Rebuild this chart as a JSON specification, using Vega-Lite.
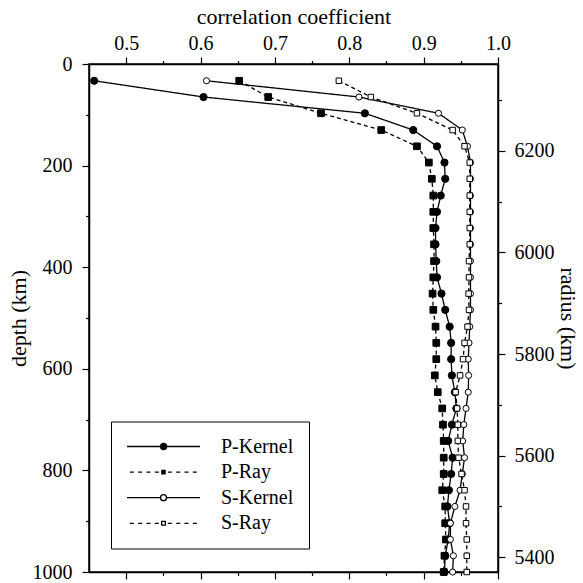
{
  "$schema": "https://vega.github.io/schema/vega-lite/v6.json",
  "autosize": {"type": "none"},
  "width": 409,
  "height": 508,
  "padding": {"left": 89, "top": 64, "right": 85, "bottom": 11},
  "background": "white",
  "config": {
    "font": "Liberation Serif",
    "view": {"stroke": "black", "strokeWidth": 1.5},
    "axis": {
      "grid": false, "domainColor": "black", "tickColor": "black", "labelColor": "black", "titleColor": "black",
      "labelFont": "Liberation Serif", "titleFont": "Liberation Serif", "labelFontSize": 20, "titleFontSize": 22,
      "titleFontWeight": "normal", "domainWidth": 1.5, "tickWidth": 1.2, "labelOverlap": false, "labelFlush": false
    }
  },
  "datasets": {
    "profiles": [
      {"s":"P-Kernel","d":33,"r":0.457},{"s":"P-Kernel","d":65,"r":0.604},{"s":"P-Kernel","d":97,"r":0.821},{"s":"P-Kernel","d":130,"r":0.886},{"s":"P-Kernel","d":162,"r":0.918},{"s":"P-Kernel","d":194,"r":0.928},{"s":"P-Kernel","d":226,"r":0.929},{"s":"P-Kernel","d":259,"r":0.923},{"s":"P-Kernel","d":291,"r":0.918},{"s":"P-Kernel","d":323,"r":0.916},{"s":"P-Kernel","d":355,"r":0.916},{"s":"P-Kernel","d":388,"r":0.917},{"s":"P-Kernel","d":420,"r":0.918},{"s":"P-Kernel","d":452,"r":0.924},{"s":"P-Kernel","d":484,"r":0.929},{"s":"P-Kernel","d":517,"r":0.935},{"s":"P-Kernel","d":549,"r":0.937},{"s":"P-Kernel","d":581,"r":0.937},{"s":"P-Kernel","d":613,"r":0.938},{"s":"P-Kernel","d":646,"r":0.942},{"s":"P-Kernel","d":678,"r":0.944},{"s":"P-Kernel","d":710,"r":0.938},{"s":"P-Kernel","d":742,"r":0.933},{"s":"P-Kernel","d":775,"r":0.939},{"s":"P-Kernel","d":807,"r":0.937},{"s":"P-Kernel","d":839,"r":0.934},{"s":"P-Kernel","d":871,"r":0.932},{"s":"P-Kernel","d":904,"r":0.935},{"s":"P-Kernel","d":936,"r":0.933},{"s":"P-Kernel","d":968,"r":0.929},{"s":"P-Kernel","d":1000,"r":0.928},
      {"s":"P-Ray","d":33,"r":0.652},{"s":"P-Ray","d":65,"r":0.691},{"s":"P-Ray","d":97,"r":0.762},{"s":"P-Ray","d":130,"r":0.843},{"s":"P-Ray","d":162,"r":0.891},{"s":"P-Ray","d":194,"r":0.907},{"s":"P-Ray","d":226,"r":0.911},{"s":"P-Ray","d":259,"r":0.913},{"s":"P-Ray","d":291,"r":0.913},{"s":"P-Ray","d":323,"r":0.913},{"s":"P-Ray","d":355,"r":0.914},{"s":"P-Ray","d":388,"r":0.914},{"s":"P-Ray","d":420,"r":0.913},{"s":"P-Ray","d":452,"r":0.912},{"s":"P-Ray","d":484,"r":0.913},{"s":"P-Ray","d":517,"r":0.916},{"s":"P-Ray","d":549,"r":0.917},{"s":"P-Ray","d":581,"r":0.917},{"s":"P-Ray","d":613,"r":0.915},{"s":"P-Ray","d":646,"r":0.919},{"s":"P-Ray","d":678,"r":0.925},{"s":"P-Ray","d":710,"r":0.926},{"s":"P-Ray","d":742,"r":0.927},{"s":"P-Ray","d":775,"r":0.927},{"s":"P-Ray","d":807,"r":0.927},{"s":"P-Ray","d":839,"r":0.925},{"s":"P-Ray","d":871,"r":0.929},{"s":"P-Ray","d":904,"r":0.929},{"s":"P-Ray","d":936,"r":0.930},{"s":"P-Ray","d":968,"r":0.928},{"s":"P-Ray","d":1000,"r":0.927},
      {"s":"S-Kernel","d":33,"r":0.608},{"s":"S-Kernel","d":65,"r":0.813},{"s":"S-Kernel","d":97,"r":0.920},{"s":"S-Kernel","d":130,"r":0.952},{"s":"S-Kernel","d":162,"r":0.959},{"s":"S-Kernel","d":194,"r":0.963},{"s":"S-Kernel","d":226,"r":0.963},{"s":"S-Kernel","d":259,"r":0.963},{"s":"S-Kernel","d":291,"r":0.963},{"s":"S-Kernel","d":323,"r":0.963},{"s":"S-Kernel","d":355,"r":0.963},{"s":"S-Kernel","d":388,"r":0.963},{"s":"S-Kernel","d":420,"r":0.963},{"s":"S-Kernel","d":452,"r":0.963},{"s":"S-Kernel","d":484,"r":0.963},{"s":"S-Kernel","d":517,"r":0.962},{"s":"S-Kernel","d":549,"r":0.961},{"s":"S-Kernel","d":581,"r":0.960},{"s":"S-Kernel","d":613,"r":0.9605},{"s":"S-Kernel","d":646,"r":0.960},{"s":"S-Kernel","d":678,"r":0.957},{"s":"S-Kernel","d":710,"r":0.954},{"s":"S-Kernel","d":742,"r":0.9525},{"s":"S-Kernel","d":775,"r":0.955},{"s":"S-Kernel","d":807,"r":0.952},{"s":"S-Kernel","d":839,"r":0.949},{"s":"S-Kernel","d":871,"r":0.942},{"s":"S-Kernel","d":904,"r":0.936},{"s":"S-Kernel","d":936,"r":0.936},{"s":"S-Kernel","d":968,"r":0.940},{"s":"S-Kernel","d":1000,"r":0.939},
      {"s":"S-Ray","d":33,"r":0.786},{"s":"S-Ray","d":65,"r":0.829},{"s":"S-Ray","d":97,"r":0.891},{"s":"S-Ray","d":130,"r":0.939},{"s":"S-Ray","d":162,"r":0.955},{"s":"S-Ray","d":194,"r":0.962},{"s":"S-Ray","d":226,"r":0.962},{"s":"S-Ray","d":259,"r":0.962},{"s":"S-Ray","d":291,"r":0.962},{"s":"S-Ray","d":323,"r":0.962},{"s":"S-Ray","d":355,"r":0.962},{"s":"S-Ray","d":388,"r":0.961},{"s":"S-Ray","d":420,"r":0.961},{"s":"S-Ray","d":452,"r":0.9605},{"s":"S-Ray","d":484,"r":0.961},{"s":"S-Ray","d":517,"r":0.959},{"s":"S-Ray","d":549,"r":0.955},{"s":"S-Ray","d":581,"r":0.953},{"s":"S-Ray","d":613,"r":0.949},{"s":"S-Ray","d":646,"r":0.943},{"s":"S-Ray","d":678,"r":0.945},{"s":"S-Ray","d":710,"r":0.946},{"s":"S-Ray","d":742,"r":0.946},{"s":"S-Ray","d":775,"r":0.947},{"s":"S-Ray","d":807,"r":0.951},{"s":"S-Ray","d":839,"r":0.955},{"s":"S-Ray","d":871,"r":0.957},{"s":"S-Ray","d":904,"r":0.957},{"s":"S-Ray","d":936,"r":0.958},{"s":"S-Ray","d":968,"r":0.958},{"s":"S-Ray","d":1000,"r":0.958}
    ]
  },
  "data": {"name": "profiles"},
  "layer": [
    {
      "mark": {"type": "line", "strokeWidth": 1.3, "color": "black"},
      "encoding": {
        "x": {"field": "r", "type": "quantitative", "scale": {"domain": [0.45, 1.0], "nice": false, "zero": false},
          "axis": {"orient": "top", "title": "correlation coefficient", "values": [0.5,0.55,0.6,0.65,0.7,0.75,0.8,0.85,0.9,0.95,1.0],
            "labelExpr": "abs(datum.value*10 - round(datum.value*10)) < 0.001 ? format(datum.value, '.1f') : ''",
            "tickSize": {"condition": {"test": "abs(datum.value*10 - round(datum.value*10)) < 0.001", "value": 7}, "value": 3.5},
            "labelPadding": 4, "titlePadding": 5}},
        "y": {"field": "d", "type": "quantitative", "scale": {"domain": [0, 1000], "reverse": true, "nice": false, "zero": false},
          "axis": {"orient": "left", "title": "depth (km)", "values": [0,100,200,300,400,500,600,700,800,900,1000],
            "labelExpr": "datum.value % 200 == 0 ? format(datum.value, 'd') : ''",
            "tickSize": {"condition": {"test": "datum.value % 200 == 0", "value": 7}, "value": 3.5},
            "labelPadding": 10, "titlePadding": 2}},
        "detail": {"field": "s", "type": "nominal"},
        "strokeDash": {"field": "s", "type": "nominal", "scale": {"domain": ["P-Kernel","P-Ray","S-Kernel","S-Ray"], "range": [[1,0],[4,3],[1,0],[4,3]]}, "legend": null},
        "order": {"field": "d", "type": "quantitative"}
      }
    },
    {
      "mark": {"type": "point", "filled": true, "stroke": "black", "strokeWidth": 1, "opacity": 1},
      "encoding": {
        "x": {"field": "r", "type": "quantitative",
          "axis": {"orient": "bottom", "title": null, "labels": false, "values": [0.5,0.55,0.6,0.65,0.7,0.75,0.8,0.85,0.9,0.95,1.0],
            "tickSize": {"condition": {"test": "abs(datum.value*10 - round(datum.value*10)) < 0.001", "value": 7}, "value": 3.5}}},
        "y": {"field": "d", "type": "quantitative",
          "axis": {"orient": "right", "title": "radius (km)", "values": [71,171,271,371,471,571,671,771,871,971],
            "labelExpr": "(6371 - datum.value) % 200 == 0 ? format(6371 - datum.value, 'd') : ''",
            "tickSize": {"condition": {"test": "(6371 - datum.value) % 200 == 0", "value": 7}, "value": 3.5},
            "labelPadding": 9, "titlePadding": 1}},
        "shape": {"field": "s", "type": "nominal", "scale": {"domain": ["P-Kernel","P-Ray","S-Kernel","S-Ray"], "range": ["circle","square","circle","square"]}, "legend": null},
        "fill": {"field": "s", "type": "nominal", "scale": {"domain": ["P-Kernel","P-Ray","S-Kernel","S-Ray"], "range": ["black","black","white","white"]}, "legend": null},
        "size": {"field": "s", "type": "ordinal", "scale": {"domain": ["P-Kernel","P-Ray","S-Kernel","S-Ray"], "range": [52,30,46,18]}, "legend": null}
      }
    },
    {
      "transform": [{"filter": "false"}],
      "mark": {"type": "point", "filled": false, "stroke": "black", "opacity": 1},
      "encoding": {
        "x": {"field": "r", "type": "quantitative", "axis": null},
        "y": {"field": "d", "type": "quantitative", "axis": null},
        "shape": {"field": "s", "type": "nominal",
          "scale": {"domain": ["P-Kernel","P-Ray","S-Kernel","S-Ray"],
            "range": [
              "M-1,0L1,0M0.085,0A0.085,0.085,0,1,1,-0.085,0A0.085,0.085,0,1,1,0.085,0ZM0.062,0A0.062,0.062,0,1,1,-0.062,0A0.062,0.062,0,1,1,0.062,0ZM0.04,0A0.04,0.04,0,1,1,-0.04,0A0.04,0.04,0,1,1,0.04,0ZM0.018,0A0.018,0.018,0,1,1,-0.018,0A0.018,0.018,0,1,1,0.018,0Z",
              "M-1,0L-1,0M-0.923,0L-0.814,0M-0.693,0L-0.584,0M-0.466,0L-0.356,0M-0.238,0L-0.129,0M0.118,0L0.227,0M0.348,0L0.458,0M0.575,0L0.685,0M0.803,0L0.912,0M1,0L1,0M-0.045,-0.045L0.045,-0.045L0.045,0.045L-0.045,0.045ZM-0.026,-0.026L0.026,-0.026L0.026,0.026L-0.026,0.026ZM-0.008,-0.008L0.008,-0.008L0.008,0.008L-0.008,0.008Z",
              "M-1,0L-0.082,0M0.082,0L1,0M0.082,0A0.082,0.082,0,1,1,-0.082,0A0.082,0.082,0,1,1,0.082,0Z",
              "M-1,0L-1,0M-0.923,0L-0.814,0M-0.693,0L-0.584,0M-0.466,0L-0.356,0M-0.238,0L-0.129,0M0.118,0L0.227,0M0.348,0L0.458,0M0.575,0L0.685,0M0.803,0L0.912,0M1,0L1,0M-0.05,-0.05L0.05,-0.05L0.05,0.05L-0.05,0.05Z"
            ]},
          "legend": {
            "orient": "none", "legendX": 22, "legendY": 357.5, "title": null,
            "symbolSize": 5329, "symbolStrokeWidth": 1.3, "symbolStrokeColor": "black", "symbolOpacity": 1, "symbolFillColor": "white",
            "labelFont": "Liberation Serif", "labelFontSize": 20, "labelColor": "black", "labelOffset": 20,
            "clipHeight": 20, "rowPadding": 5.6, "padding": 15, "strokeColor": "black", "fillColor": "white",
            "encode": {
              "symbols": {"stroke": {"value": "black"}, "opacity": {"value": 1}, "strokeWidth": {"value": 1.3}},
              "legend": {"strokeWidth": {"value": 1.3}}
            }
          }
        }
      }
    }
  ],
  "resolve": {"scale": {"shape": "independent"}, "axis": {"x": "independent", "y": "independent"}}
}
